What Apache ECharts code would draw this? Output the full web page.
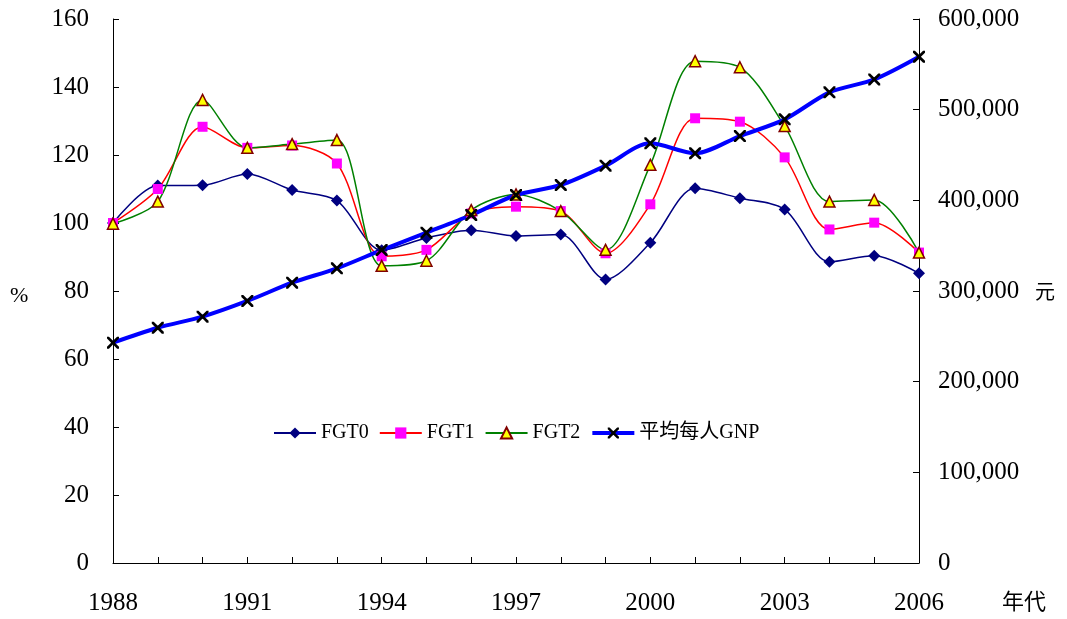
<!DOCTYPE html>
<html>
<head>
<meta charset="utf-8">
<script src="https://cdn.jsdelivr.net/npm/echarts@6/dist/echarts.min.js"></script>
<style>
html,body{margin:0;padding:0;background:#fff;}
#chart{width:1067px;height:619px;}
</style>
</head>
<body>
<div id="chart"></div>
<script>
const years = ['1988','1989','1990','1991','1992','1993','1994','1995','1996','1997','1998','1999','2000','2001','2002','2003','2004','2005','2006'];
const fgt0 = [100, 111, 111.1, 114.4, 109.7, 106.6, 92, 95.6, 97.9, 96.2, 96.6, 83.4, 94.2, 110.2, 107.3, 104, 88.6, 90.4, 85.2];
const fgt1 = [100, 110, 128.3, 122.1, 122.8, 117.5, 90.2, 92.1, 102.8, 104.8, 103.5, 91.1, 105.5, 130.8, 129.8, 119.3, 98.1, 100.1, 91.3];
const fgt2 = [99.8, 106.3, 136.2, 122.1, 123.2, 124.4, 87.4, 88.9, 103.8, 108.4, 103.5, 92.1, 117.1, 147.6, 145.8, 128.5, 106.3, 106.8, 91.3];
const gnp = [243000, 259500, 271700, 289000, 309200, 325000, 345200, 364300, 383800, 405900, 416900, 438200, 462900, 451900, 470900, 489300, 519100, 533400, 558400];
const seriesNames = ['FGT0', 'FGT1', 'FGT2', '平均每人GNP'];

const FONT = '"Liberation Serif", "Noto Sans CJK TC", serif';
const XPATH = 'path://M0,0 L1.6,0 L5,3.4 L8.4,0 L10,0 L10,1.6 L6.6,5 L10,8.4 L10,10 L8.4,10 L5,6.6 L1.6,10 L0,10 L0,8.4 L3.4,5 L0,1.6 Z';

function commas(v){ return String(v).replace(/\B(?=(\d{3})+(?!\d))/g, ','); }

const chart = echarts.init(document.getElementById('chart'), null, {renderer:'canvas'});
chart.setOption({
  animation: false,
  backgroundColor: '#fff',
  textStyle: {fontFamily: FONT},
  grid: {left: 113, right: 148, top: 19, bottom: 56, containLabel: false, outerBoundsMode: 'none'},
  legend: {
    data: [
      {name: seriesNames[0]},
      {name: seriesNames[1]},
      {name: seriesNames[2]},
      {name: seriesNames[3], lineStyle: {width: 4, color: '#0000ff'}}
    ],
    left: 273, top: 423, padding: 0,
    itemWidth: 42, itemHeight: 14, itemGap: 10,
    textStyle: {fontFamily: FONT, fontSize: 20, color: '#000'}
  },
  xAxis: {
    type: 'category', data: years, boundaryGap: false,
    axisLine: {lineStyle: {color: '#000', width: 1}},
    axisTick: {show: true, inside: true, length: 6, interval: 0, lineStyle: {color: '#000'}},
    axisLabel: {interval: 2, margin: 28, fontSize: 25, color: '#000', fontFamily: FONT},
    splitLine: {show: false}
  },
  yAxis: [
    {
      type: 'value', min: 0, max: 160, interval: 20, position: 'left',
      axisLine: {show: true, lineStyle: {color: '#000'}},
      axisTick: {show: true, inside: true, length: 6, lineStyle: {color: '#000'}},
      axisLabel: {margin: 24, fontSize: 25, color: '#000', fontFamily: FONT},
      splitLine: {show: false}
    },
    {
      type: 'value', min: 0, max: 600000, interval: 100000, position: 'right',
      axisLine: {show: true, lineStyle: {color: '#000'}},
      axisTick: {show: true, inside: true, length: 6, lineStyle: {color: '#000'}},
      axisLabel: {margin: 19, fontSize: 25, color: '#000', fontFamily: FONT, formatter: v => commas(v)},
      splitLine: {show: false}
    }
  ],
  graphic: [
    {type: 'text', left: 10, top: 285, style: {text: '%', font: '22px ' + FONT, fill: '#000'}},
    {type: 'text', left: 1035, top: 281, style: {text: '元', font: '20px "Noto Sans CJK TC"', fill: '#000'}},
    {type: 'text', left: 1002, top: 590, style: {text: '年代', font: '22px "Noto Sans CJK TC"', fill: '#000'}}
  ],
  series: [
    {
      name: seriesNames[0], type: 'line', data: fgt0, yAxisIndex: 0, smooth: 0.3,
      symbol: 'diamond', symbolSize: 12, showAllSymbol: true,
      lineStyle: {color: '#000080', width: 1.5},
      itemStyle: {color: '#000080', borderColor: '#000080', borderWidth: 0}
    },
    {
      name: seriesNames[1], type: 'line', data: fgt1, yAxisIndex: 0, smooth: 0.3,
      symbol: 'rect', symbolSize: 10, showAllSymbol: true,
      lineStyle: {color: '#ff0000', width: 1.5},
      itemStyle: {color: '#ff00ff', borderColor: '#ff00ff', borderWidth: 0}
    },
    {
      name: seriesNames[2], type: 'line', data: fgt2, yAxisIndex: 0, smooth: 0.3,
      symbol: 'triangle', symbolSize: 11, showAllSymbol: true,
      lineStyle: {color: '#008000', width: 1.5},
      itemStyle: {color: '#ffff00', borderColor: '#800000', borderWidth: 1.5}
    },
    {
      name: seriesNames[3], type: 'line', data: gnp, yAxisIndex: 1, smooth: 0.3,
      symbol: XPATH, symbolSize: 12, showAllSymbol: true,
      lineStyle: {color: '#0000ff', width: 4},
      itemStyle: {color: '#000000', borderWidth: 0}
    }
  ]
});
</script>
</body>
</html>
